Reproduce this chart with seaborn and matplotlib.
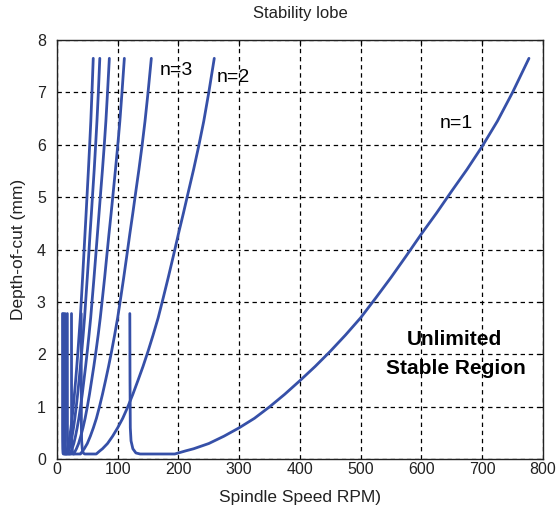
import matplotlib
matplotlib.use("Agg")
import matplotlib.pyplot as plt
import seaborn as sns
import pandas as pd

# Shared depth profile (mm) along each lobe, from the left spike to the top
depth = [2.78, 1.5, 0.6, 0.35, 0.2, 0.12, 0.1, 0.1, 0.12, 0.16, 0.2, 0.3, 0.44, 0.6,
         0.78, 1.0, 1.24, 1.5, 1.77, 2.06, 2.37, 2.7, 3.08, 3.47, 3.88, 4.3, 4.7,
         5.12, 5.53, 5.97, 6.45, 7.0, 7.65]

# Spindle speed (RPM) of each lobe at those depths
lobe_1 = [120, 120.3, 120.8, 122, 125, 130, 137, 194, 200, 212, 225, 250, 275, 300,
          325, 350, 375, 400, 425, 450, 475, 500, 525, 550, 575, 600, 625, 650, 675,
          700, 725, 750, 777]
lobe_2 = [40, 40.1, 40.3, 40.7, 41.7, 43.3, 45.7, 64.7, 66.7, 70.7, 75, 83.3, 91.7,
          100, 108.3, 116.7, 125, 133.3, 141.7, 150, 158.3, 166.7, 175, 183.3, 191.7,
          200, 208.3, 216.7, 225, 233.3, 241.7, 250, 259]
lobe_3 = [24, 24.06, 24.16, 24.4, 25, 26, 27.4, 38.8, 40, 42.4, 45, 50, 55, 60, 65,
          70, 75, 80, 85, 90, 95, 100, 105, 110, 115, 120, 125, 130, 135, 140, 145,
          150, 155.4]
lobe_4 = [17.1, 17.2, 17.3, 17.4, 17.9, 18.6, 19.6, 27.7, 28.6, 30.3, 32.1, 35.7,
          39.3, 42.9, 46.4, 50, 53.6, 57.1, 60.7, 64.3, 67.9, 71.4, 75, 78.6, 82.1,
          85.7, 89.3, 92.9, 96.4, 100, 103.6, 107.1, 111]
lobe_5 = [13.3, 13.4, 13.4, 13.6, 13.9, 14.4, 15.2, 21.6, 22.2, 23.6, 25, 27.8, 30.6,
          33.3, 36.1, 38.9, 41.7, 44.4, 47.2, 50, 52.8, 55.6, 58.3, 61.1, 63.9, 66.7,
          69.4, 72.2, 75, 77.8, 80.6, 83.3, 86.3]
lobe_6 = [10.9, 10.9, 11.0, 11.1, 11.4, 11.8, 12.5, 17.6, 18.2, 19.3, 20.5, 22.7, 25,
          27.3, 29.5, 31.8, 34.1, 36.4, 38.6, 40.9, 43.2, 45.5, 47.7, 50, 52.3, 54.5,
          56.8, 59.1, 61.4, 63.6, 65.9, 68.2, 70.6]
lobe_7 = [9.2, 9.3, 9.3, 9.4, 9.6, 10, 10.5, 14.9, 15.4, 16.3, 17.3, 19.2, 21.2, 23.1,
          25, 26.9, 28.8, 30.8, 32.7, 34.6, 36.5, 38.5, 40.4, 42.3, 44.2, 46.2, 48.1,
          50, 51.9, 53.8, 55.8, 57.7, 59.8]

lobes = {1: lobe_1, 2: lobe_2, 3: lobe_3, 4: lobe_4, 5: lobe_5, 6: lobe_6, 7: lobe_7}

x_ticks = [0, 100, 200, 300, 400, 500, 600, 700, 800]
y_ticks = [0, 1, 2, 3, 4, 5, 6, 7, 8]

rows = []
for k, rpm in lobes.items():
    for i, (r, d) in enumerate(zip(rpm, depth)):
        rows.append({"lobe": k, "order": i, "rpm": r, "depth": d})
df = pd.DataFrame(rows)

sns.set_style("white")
plt.rcParams["font.family"] = ["Liberation Sans", "DejaVu Sans"]

fig = plt.figure(figsize=(5.58, 5.16), dpi=100)
ax = fig.add_axes([0.102, 0.110, 0.871, 0.8125])

sns.lineplot(data=df, x="rpm", y="depth", units="lobe", estimator=None, sort=False,
             color="#3650a8", linewidth=2.0, ax=ax, legend=False)

ax.set_xlim(0, 800)
ax.set_ylim(0, 8)
ax.set_xticks(x_ticks)
ax.set_yticks(y_ticks)
ax.set_xticklabels([str(t) for t in x_ticks])
ax.set_yticklabels([str(t) for t in y_ticks])
ax.grid(True, color="black", linestyle=(0, (3.5, 3)), linewidth=0.9)
ax.tick_params(axis="both", direction="in", length=4, width=0.8, colors="black",
               labelcolor="#222222", labelsize=11.5, top=True, right=True)
ax.tick_params(axis="x", pad=2)
ax.tick_params(axis="y", pad=8)
for s in ax.spines.values():
    s.set_visible(True)
    s.set_color("#222222")
    s.set_linewidth(1.0)

ax.set_title("Stability lobe", fontsize=12, color="#222222", pad=16)
ax.set_xlabel("Spindle Speed RPM)", fontsize=12.5, color="#222222", labelpad=9)
ax.set_ylabel("Depth-of-cut (mm)", fontsize=12.5, color="#222222", labelpad=8)

ax.text(197, 7.41, "n=3", fontsize=14, ha="center", va="center", color="black")
ax.text(291, 7.28, "n=2", fontsize=14, ha="center", va="center", color="black")
ax.text(658, 6.40, "n=1", fontsize=14, ha="center", va="center", color="black")
ax.text(655, 2.28, "Unlimited", fontsize=15, fontweight="bold", ha="center",
        va="center", color="black")
ax.text(657, 1.73, "Stable Region", fontsize=15, fontweight="bold", ha="center",
        va="center", color="black")

fig.savefig("out.png", dpi=100)
